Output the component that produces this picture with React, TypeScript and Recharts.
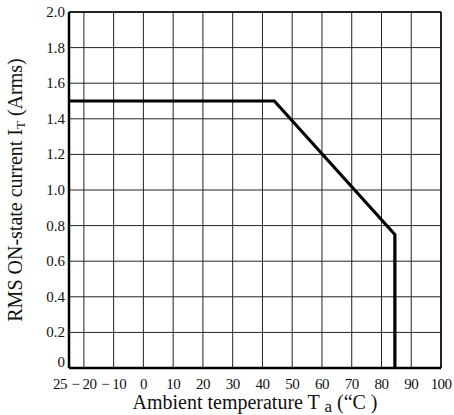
import { LineChart, Line, XAxis, YAxis, CartesianGrid, ReferenceLine } from 'recharts';

// derating curve
const temps = [-25, 44, 84.5, 84.5];
const current = [1.5, 1.5, 0.75, 0];

const xTicks = [-25, -20, -10, 0, 10, 20, 30, 40, 50, 60, 70, 80, 90, 100];
const xTickLabels = ['25', '− 20', '− 10', '0', '10', '20', '30', '40', '50', '60', '70', '80', '90', '100'];
const yTicks = [0, 0.2, 0.4, 0.6, 0.8, 1.0, 1.2, 1.4, 1.6, 1.8, 2.0];
const yTickLabels = ['0', '0.2', '0.4', '0.6', '0.8', '1.0', '1.2', '1.4', '1.6', '1.8', '2.0'];

const data = temps.map((t, i) => ({ temp: t, current: current[i] }));

const FONT = '"Liberation Serif", "DejaVu Serif", serif';

const XTick = (props: any) => {
    const { x, y, payload } = props;
    const i = xTicks.indexOf(payload.value);
    const dx = i === 0 ? -9 : 0;
    return (
        <text x={x + dx} y={y + 13} textAnchor="middle" fontFamily={FONT} fontSize={15} letterSpacing={-0.6} fill="#111">
            {xTickLabels[i]}
        </text>
    );
};

const YTick = (props: any) => {
    const { x, y, payload } = props;
    const i = yTicks.findIndex(v => Math.abs(v - payload.value) < 1e-6);
    const dy = i === 0 ? -1 : 5;
    return (
        <text x={x + 4} y={y + dy} textAnchor="end" fontFamily={FONT} fontSize={15} fill="#111">
            {yTickLabels[i]}
        </text>
    );
};

export default function App() {
    return (
        <div style={{ position: 'absolute', left: 0, top: 0, width: 454, height: 415, background: '#fff' }}>
            <LineChart width={454} height={415} data={data} margin={{ top: 12, right: 13, left: 0, bottom: 0 }}>
                <CartesianGrid stroke="#222" strokeWidth={1} />
                <XAxis
                    dataKey="temp"
                    type="number"
                    domain={[-25, 100]}
                    ticks={xTicks}
                    interval={0}
                    height={47}
                    tick={<XTick />}
                    tickLine={false}
                    axisLine={{ stroke: '#000', strokeWidth: 2.5 }}
                />
                <YAxis
                    type="number"
                    domain={[0, 2]}
                    ticks={yTicks}
                    interval={0}
                    width={69}
                    tick={<YTick />}
                    tickLine={false}
                    axisLine={{ stroke: '#000', strokeWidth: 2.5 }}
                />
                <ReferenceLine y={2} stroke="#000" strokeWidth={1.5} />
                <ReferenceLine x={100} stroke="#000" strokeWidth={1.5} />
                <Line
                    type="linear"
                    dataKey="current"
                    stroke="#000"
                    strokeWidth={3.2}
                    dot={false}
                    strokeLinejoin="miter"
                    isAnimationActive={false}
                />
                <text x={255} y={409} textAnchor="middle" fontFamily={FONT} fontSize={20} fill="#111">
                    Ambient temperature T <tspan fontSize={17} dy={3}>a</tspan><tspan dy={-3}> (“C )</tspan>
                </text>
                <text
                    x={22}
                    y={190}
                    transform="rotate(-90 22 190)"
                    textAnchor="middle"
                    fontFamily={FONT}
                    fontSize={20}
                    fill="#111"
                >
                    RMS ON-state current I<tspan fontSize={13} dy={3}>T</tspan><tspan dy={-3}> (Arms)</tspan>
                </text>
            </LineChart>
        </div>
    );
}
